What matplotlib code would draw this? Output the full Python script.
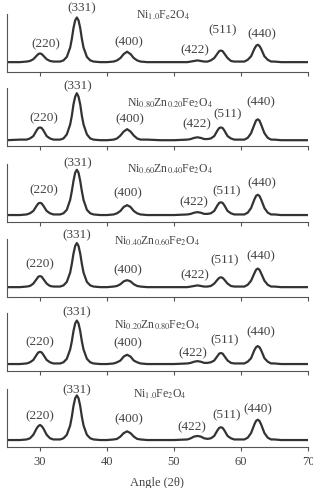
import matplotlib
matplotlib.use("Agg")
import matplotlib.pyplot as plt

plt.rcParams['font.family'] = ['Liberation Serif', 'DejaVu Serif']
plt.rcParams['mathtext.fontset'] = 'stix'

# 2-theta sample positions (shared by all patterns)
angle = [25, 27, 28, 28.5, 29, 29.5, 29.75, 30, 30.25, 30.5, 31, 31.5, 32, 33, 33.5,
         34, 34.5, 34.75, 35, 35.25, 35.5, 35.75, 36, 36.25, 36.5, 37, 37.5, 38, 39, 40,
         41, 41.5, 42, 42.5, 43, 43.5, 44, 44.5, 45, 46, 48, 50, 52, 52.5, 53,
         53.5, 54, 54.5, 55, 55.5, 56, 56.5, 56.75, 57, 57.25, 57.5, 58, 58.5, 59, 60,
         60.5, 61, 61.5, 62, 62.25, 62.5, 62.75, 63, 63.5, 64, 64.5, 65, 66, 68, 70]

# relative intensities (top to bottom)
ni100 = [.17, .17, .18, .19, .22, .28, .31, .32, .31, .28, .22, .19, .18, .18, .20,
         .26, .42, .57, .76, .89, .94, .89, .76, .57, .42, .26, .20, .18, .17, .17,
         .18, .20, .24, .31, .35, .31, .24, .20, .18, .17, .17, .17, .17, .18, .19,
         .20, .19, .18, .18, .20, .24, .32, .36, .37, .36, .32, .24, .19, .18, .18,
         .18, .21, .27, .40, .45, .47, .45, .40, .27, .21, .18, .18, .17, .17, .17]
ni080 = [.10, .11, .11, .13, .17, .27, .31, .32, .31, .27, .17, .13, .11, .11, .13,
         .20, .37, .52, .72, .85, .91, .85, .72, .52, .37, .20, .13, .11, .10, .10,
         .11, .13, .18, .25, .29, .25, .18, .13, .11, .11, .10, .10, .11, .12, .14,
         .15, .14, .12, .12, .13, .17, .27, .31, .32, .31, .27, .17, .13, .11, .11,
         .11, .14, .22, .37, .44, .46, .44, .37, .22, .14, .11, .11, .10, .10, .10]
ni060 = [.12, .12, .13, .15, .19, .28, .32, .33, .32, .28, .19, .15, .13, .13, .15,
         .21, .38, .53, .71, .85, .90, .85, .71, .53, .38, .21, .15, .13, .12, .12,
         .13, .15, .19, .26, .29, .26, .19, .15, .13, .12, .12, .12, .13, .14, .16,
         .17, .16, .14, .14, .15, .19, .29, .33, .34, .33, .29, .19, .15, .13, .13,
         .13, .16, .24, .39, .45, .47, .45, .39, .24, .16, .13, .13, .12, .12, .12]
ni040 = [.17, .17, .18, .19, .23, .31, .35, .36, .35, .31, .23, .19, .18, .18, .20,
         .26, .42, .57, .75, .88, .93, .88, .75, .57, .42, .26, .20, .18, .17, .17,
         .18, .19, .22, .27, .29, .27, .22, .19, .18, .17, .17, .17, .17, .18, .19,
         .20, .19, .18, .18, .19, .23, .30, .33, .34, .33, .30, .23, .19, .18, .18,
         .18, .21, .28, .41, .47, .49, .47, .41, .28, .21, .18, .18, .17, .17, .17]
ni020 = [.12, .12, .13, .15, .19, .28, .32, .33, .32, .28, .19, .15, .13, .13, .15,
         .21, .37, .51, .69, .82, .87, .82, .69, .51, .37, .21, .15, .13, .12, .12,
         .13, .15, .18, .25, .28, .25, .18, .15, .13, .12, .12, .12, .13, .14, .16,
         .17, .16, .14, .14, .15, .18, .26, .30, .31, .30, .26, .18, .14, .13, .13,
         .13, .16, .22, .36, .41, .43, .41, .36, .22, .16, .13, .13, .12, .12, .12]
ni100b = [.12, .12, .13, .15, .21, .32, .36, .38, .36, .32, .21, .15, .13, .13, .15,
          .21, .37, .52, .71, .84, .89, .84, .71, .52, .37, .21, .15, .13, .12, .12,
          .13, .14, .18, .24, .27, .24, .18, .14, .13, .12, .12, .12, .13, .15, .18,
          .19, .18, .15, .14, .15, .19, .29, .33, .34, .33, .29, .19, .15, .13, .13,
          .13, .16, .24, .39, .45, .47, .45, .39, .24, .16, .13, .13, .12, .12, .12]

patterns = [ni100, ni080, ni060, ni040, ni020, ni100b]
names = [r'Ni$_{1.0}$F$_{\mathrm{e}}$2O$_4$',
         r'Ni$_{0.80}$Zn$_{0.20}$Fe$_2$O$_4$',
         r'Ni$_{0.60}$Zn$_{0.40}$Fe$_2$O$_4$',
         r'Ni$_{0.40}$Zn$_{0.60}$Fe$_2$O$_4$',
         r'Ni$_{0.20}$Zn$_{0.80}$Fe$_2$O$_4$',
         r'Ni$_{1.0}$Fe$_2$O$_4$']
name_pos = [(48.4, 1.00), (49.4, 0.75), (49.4, 0.93), (47.5, 0.97), (47.5, 0.80), (47.9, 0.92)]

hkl = ['(220)', '(331)', '(400)', '(422)', '(511)', '(440)']
hkl_x = [[30.9, 36.3, 43.3, 53.1, 57.2, 63.1],
         [30.6, 35.7, 43.4, 53.4, 58.0, 63.0],
         [30.6, 35.7, 43.1, 53.0, 57.9, 63.1],
         [30.0, 35.5, 43.1, 53.1, 57.6, 62.9],
         [29.9, 35.5, 43.1, 52.8, 57.6, 63.0],
         [30.0, 35.5, 43.3, 52.7, 57.9, 62.5]]
hkl_y = [[0.50, 1.12, 0.53, 0.40, 0.74, 0.66],
         [0.49, 1.05, 0.47, 0.39, 0.56, 0.77],
         [0.57, 1.03, 0.52, 0.36, 0.55, 0.69],
         [0.58, 1.08, 0.48, 0.39, 0.65, 0.72],
         [0.51, 1.03, 0.49, 0.33, 0.55, 0.69],
         [0.54, 1.00, 0.49, 0.36, 0.57, 0.66]]

W, H = 313, 489
fig = plt.figure(figsize=(W / 100, H / 100), dpi=100)

axis_px = [73, 147, 223, 298, 372, 448]
panel_h = 58
txt = '#444444'

for i, y in enumerate(patterns):
    ax = fig.add_axes([6.5 / W, 1 - axis_px[i] / H, (308 - 6.5) / W, panel_h / H])
    ax.plot(angle, y, color='#333333', lw=1.6, solid_joinstyle='round')
    ax.set_xlim(25, 70)
    ax.set_ylim(0, 1)
    ax.set_yticks([])
    ax.set_xticks([30, 40, 50, 60, 70])
    for s in ['top', 'right']:
        ax.spines[s].set_visible(False)
    for s in ['left', 'bottom']:
        ax.spines[s].set_color('#555555')
        ax.spines[s].set_linewidth(0.8)
    ax.tick_params(axis='x', direction='out', length=3, width=0.8, color='#555555',
                   labelsize=9, labelcolor=txt, pad=3)
    if i < len(patterns) - 1:
        ax.set_xticklabels([])
    else:
        ax.set_xlabel('Angle (2θ)', fontsize=9, color=txt, labelpad=6)
    for lab, lx, ly in zip(hkl, hkl_x[i], hkl_y[i]):
        ax.text(lx, ly, lab, ha='center', va='center', fontsize=9.5, color=txt, clip_on=False)
    nx, ny = name_pos[i]
    ax.text(nx, ny, names[i], ha='center', va='center', fontsize=8.5, color=txt, clip_on=False)

fig.savefig('out.png', dpi=100)
